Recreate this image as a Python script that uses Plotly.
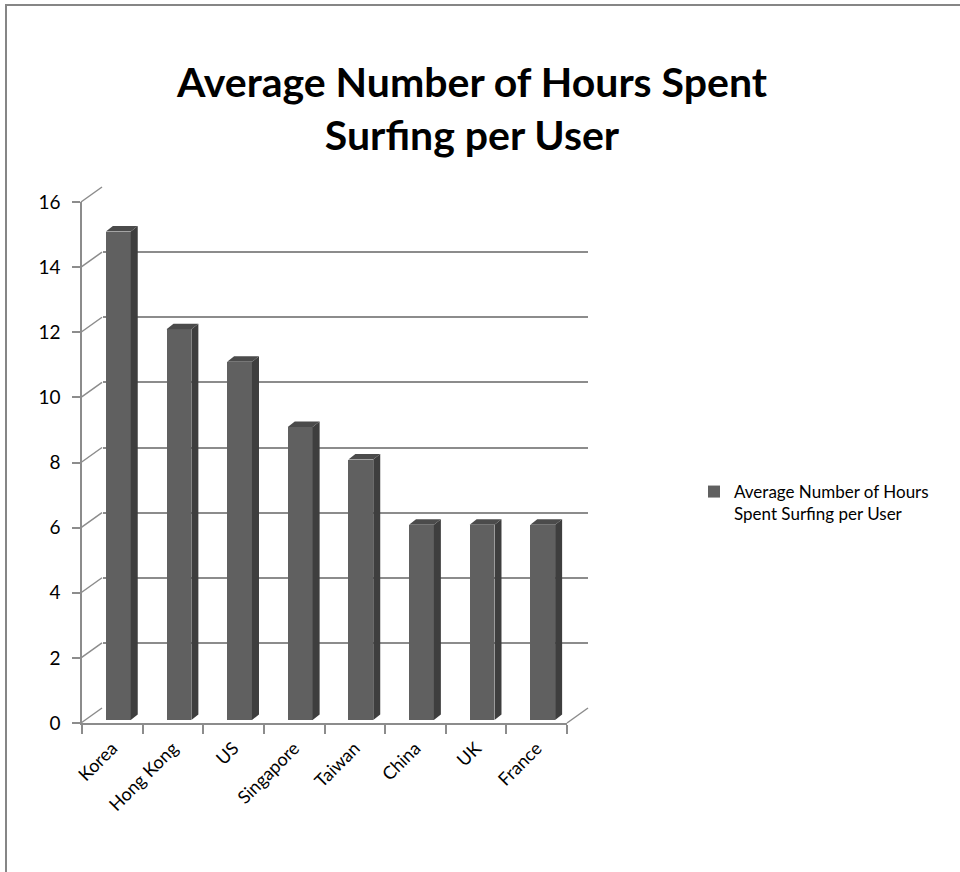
import plotly.graph_objects as go

# ---------------- data ----------------
countries = ["Korea", "Hong Kong", "US", "Singapore", "Taiwan", "China", "UK", "France"]
hours = [15, 12, 11, 9, 8, 6, 6, 6]
y_ticks = [0, 2, 4, 6, 8, 10, 12, 14, 16]
series_name = "Average Number of Hours<br>Spent Surfing per User"
title_text = "Average Number of Hours Spent<br>Surfing per User"

# ---------------- layout constants (pixels) ----------------
W, H = 960, 872
FX0, FX1 = 82, 567          # front plane x extent
FY0, FY1 = 723, 202         # front plane y for value 0 and 16
DX, DY = 21, 15             # depth offset of back wall
BX, BY = 6, 3               # depth offset of bar front faces
YMAX = 16
FONT = "Lato"
GRID = "#8c8c8c"
FRONT = "#606060"
SIDE = "#3e3e3e"
TOP = "#4b4b4b"


def px(x):
    return x / W


def py(y):
    return 1 - y / H


cat_px = (FX1 - FX0) / len(countries)
unit_px = (FY0 - FY1) / YMAX

fig = go.Figure()

# bars (front faces)
bar_w = 0.41
fig.add_trace(go.Bar(
    x=list(range(len(countries))), y=hours, width=bar_w,
    marker=dict(color=FRONT, line=dict(width=0)),
    name=series_name, xaxis="x3", yaxis="y3", showlegend=True,
))

# side and top faces
sx = 7 / cat_px
sy = 5.5 / unit_px
side_x, side_y, top_x, top_y = [], [], [], []
for i, v in enumerate(hours):
    r = i + bar_w / 2
    l = i - bar_w / 2
    side_x += [r, r + sx, r + sx, r, r, None]
    side_y += [0, sy, v + sy, v, 0, None]
    top_x += [l, l + sx, r + sx, r, l, None]
    top_y += [v, v + sy, v + sy, v, v, None]
fig.add_trace(go.Scatter(x=side_x, y=side_y, fill="toself", fillcolor=SIDE, mode="lines",
                         line=dict(width=0, color=SIDE), xaxis="x3", yaxis="y3",
                         showlegend=False, hoverinfo="skip"))
fig.add_trace(go.Scatter(x=top_x, y=top_y, fill="toself", fillcolor=TOP, mode="lines",
                         line=dict(width=0, color=TOP), xaxis="x3", yaxis="y3",
                         showlegend=False, hoverinfo="skip"))

# invisible traces so front/back axes render
fig.add_trace(go.Scatter(x=[0, len(countries) - 1], y=[0, 0], mode="markers",
                         marker=dict(opacity=0), xaxis="x", yaxis="y",
                         showlegend=False, hoverinfo="skip"))
fig.add_trace(go.Scatter(x=[0, len(countries) - 1], y=[0, 0], mode="markers",
                         marker=dict(opacity=0), xaxis="x2", yaxis="y2",
                         showlegend=False, hoverinfo="skip"))

xr = [-0.5, len(countries) - 0.5]
fig.update_layout(
    width=W, height=H,
    margin=dict(l=0, r=0, t=0, b=0, autoexpand=False),
    paper_bgcolor="white",
    plot_bgcolor="rgba(0,0,0,0)",
    font=dict(family=FONT, color="#000000", size=18),
    # front plane
    xaxis=dict(domain=[px(FX0), px(FX1)], range=xr, anchor="y", automargin=False,
               tickmode="array", tickvals=list(range(len(countries))), ticktext=countries,
               tickangle=-45, ticks="", showgrid=False, zeroline=False,
               showline=True, linecolor=GRID, linewidth=1.5,
               ticklabelstandoff=6,
               tickfont=dict(size=18, family=FONT, color="#000"),
               minor=dict(tickmode="array",
                          tickvals=[i - 0.5 for i in range(len(countries) + 1)],
                          ticks="outside", ticklen=9, tickcolor=GRID, tickwidth=1.5,
                          showgrid=False),
               fixedrange=True),
    yaxis=dict(domain=[py(FY0), py(FY1)], range=[0, YMAX], anchor="x", automargin=False,
               tickmode="array", tickvals=y_ticks,
               ticks="outside", ticklen=8, tickcolor=GRID, tickwidth=1.5,
               ticklabelstandoff=8,
               showgrid=False, zeroline=False,
               showline=True, linecolor=GRID, linewidth=1.5,
               tickfont=dict(size=19, family=FONT, color="#000"),
               fixedrange=True),
    # back wall
    xaxis2=dict(domain=[px(FX0 + DX), px(FX1 + DX)], range=xr, anchor="y2",
                visible=False, fixedrange=True, automargin=False),
    yaxis2=dict(domain=[py(FY0 - DY), py(FY1 - DY)], range=[0, YMAX], anchor="x2",
                tickmode="array", tickvals=y_ticks, showticklabels=False, ticks="",
                showgrid=True, gridcolor=GRID, gridwidth=1.5, zeroline=False,
                showline=False, fixedrange=True, automargin=False),
    # bars
    xaxis3=dict(domain=[px(FX0 + BX), px(FX1 + BX)], range=xr, anchor="y3",
                visible=False, fixedrange=True, automargin=False),
    yaxis3=dict(domain=[py(FY0 - BY), py(FY1 - BY)], range=[0, YMAX], anchor="x3",
                visible=False, fixedrange=True, automargin=False),
    showlegend=True,
    legend=dict(x=px(694), y=py(474), xanchor="left", yanchor="top",
                font=dict(size=17, family=FONT, color="#000"),
                valign="top", bgcolor="rgba(0,0,0,0)", itemclick=False),
    bargap=0,
)

# title
fig.add_annotation(x=px(472), y=py(108), xref="paper", yref="paper",
                   text="<b>" + title_text + "</b>", showarrow=False,
                   font=dict(size=41, family=FONT, color="#000"),
                   xanchor="center", yanchor="middle", align="center")

# depth diagonals from the front axis to the back wall
shapes = []
for v in y_ticks:
    yf = FY0 - v * unit_px
    shapes.append(dict(type="line", xref="paper", yref="paper",
                       x0=px(FX0 - 1), y0=py(yf), x1=px(FX0 - 1 + DX), y1=py(yf - DY),
                       line=dict(color=GRID, width=1.5), layer="below"))
# right edge of floor
shapes.append(dict(type="line", xref="paper", yref="paper",
                   x0=px(FX1), y0=py(FY0), x1=px(FX1 + DX), y1=py(FY0 - DY),
                   line=dict(color=GRID, width=1.5), layer="below"))
# outer chart border
shapes.append(dict(type="rect", xref="paper", yref="paper",
                   x0=px(6), y0=py(H + 20), x1=px(W + 20), y1=py(5),
                   line=dict(color="#868686", width=2), layer="below"))
fig.update_layout(shapes=shapes)

fig.write_html("out.html")
